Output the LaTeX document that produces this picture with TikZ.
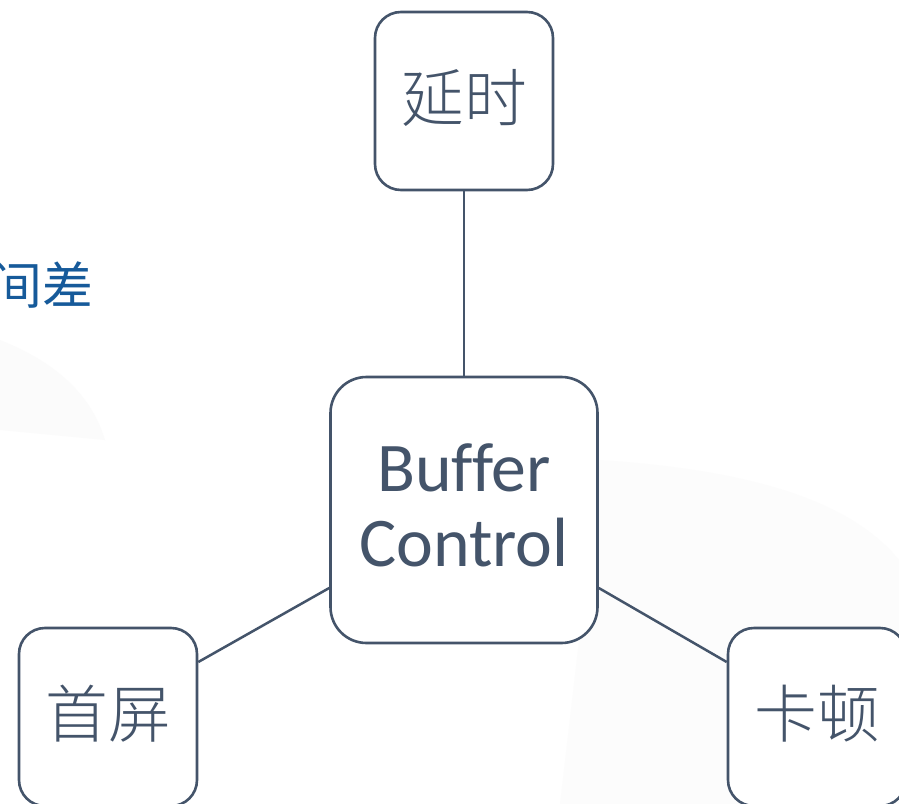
\documentclass[tikz,border=0pt]{standalone}
\usepackage{fontspec}
\newfontfamily\cjk{Noto Sans CJK SC}
\newfontfamily\cjklight{Noto Sans CJK SC Light}
\newfontfamily\calib[Ligatures=NoCommon]{Carlito}
\definecolor{slate}{HTML}{44546A}
\definecolor{tblue}{HTML}{165A9A}
\tikzset{
  box/.style={draw=slate, line width=2.6bp, fill=white, rounded corners=#1, inner sep=0pt},
  conn/.style={draw=slate, line width=2.5bp},
}
\begin{document}
\begin{tikzpicture}[x=1bp,y=-1bp]
\useasboundingbox[fill=white] (0,0) rectangle (899,804);
% faint background shapes
\fill[black!1.5] (0,430) -- (0,340) .. controls (50,360) and (90,390) .. (105,440) -- cycle;
\fill[black!1] (600,460) .. controls (750,470) and (850,500) .. (899,560) -- (899,804) -- (560,804) -- cycle;
\node[anchor=east, text=tblue, font=\cjk\fontsize{51}{56}\selectfont] (diff) at (97,285) {间差};
\node[box=26bp, minimum width=178bp, minimum height=178bp] (delay) at (464,101) {};
\node[box=36bp, minimum width=267bp, minimum height=266bp] (buf) at (464,510) {};
\node[box=26bp, minimum width=178bp, minimum height=178bp] (first) at (108,717) {};
\node[box=26bp, minimum width=178bp, minimum height=178bp] (stall) at (817,717) {};
\node[text=slate, font=\cjklight\fontsize{63}{66}\selectfont] at ([yshift=3bp]delay.center) {延时};
\node[text=slate, font=\cjklight\fontsize{63}{66}\selectfont] at ([yshift=3bp]first.center) {首屏};
\node[text=slate, font=\cjklight\fontsize{63}{66}\selectfont] at ([yshift=3bp]stall.center) {卡顿};
\node[text=slate, align=center, font=\calib\fontsize{70}{75}\selectfont] at ([yshift=5bp]buf.center) {Buffer\\Control};
\draw[conn] (delay.south) -- (buf.north);
\draw[conn] (buf.west |- 0,588) coordinate (bl) -- (first.east |- 0,662) coordinate (fr);
\draw[conn] (buf.east |- 0,588) coordinate (br) -- (stall.west |- 0,662) coordinate (sl);
\end{tikzpicture}
\end{document}
